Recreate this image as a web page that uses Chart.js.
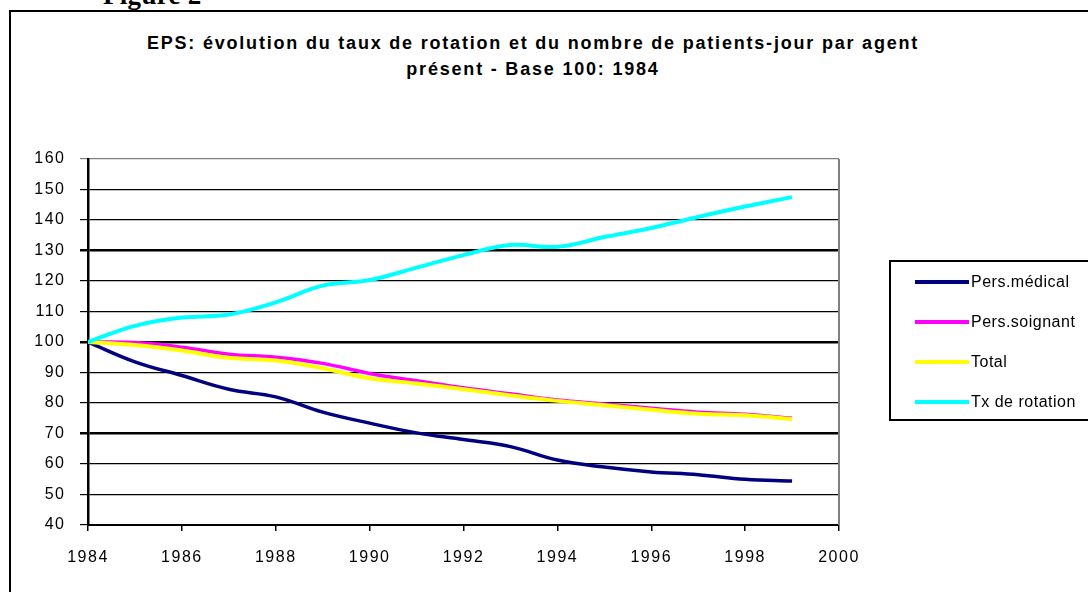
<!DOCTYPE html>
<html>
<head>
<meta charset="utf-8">
<script src="https://cdn.jsdelivr.net/npm/chart.js@4"></script>
<style>
  body { margin: 0; background: #fff; font-family: "Liberation Sans", Arial, sans-serif; }
  #wrap { position: relative; width: 1088px; height: 592px; overflow: hidden; }
  #frame { position: absolute; left: 9px; top: 10px; width: 1200px; height: 700px; border: 2px solid #000; box-sizing: border-box; }
  #fig { position: absolute; left: 103px; top: -18px; font: bold 27px/27px "Liberation Serif", serif; letter-spacing: 0.3px; }
  #title { position: absolute; left: 0; width: 1066px; top: 30px; text-align: center; font-weight: bold; font-size: 18px; line-height: 26px; letter-spacing: 1.8px; }
  #chart { position: absolute; left: 0; top: 0; }
  #legend { position: absolute; left: 889px; top: 260px; width: 220px; height: 161px; border: 2px solid #000; box-sizing: border-box; }
  .item { position: absolute; left: 24px; height: 20px; display: flex; align-items: center; font-size: 16px; letter-spacing: 0.5px; }
  .swatch { width: 54px; height: 4px; margin-right: 2px; }
</style>
</head>
<body>
<div id="wrap">
  <div id="frame"></div>
  <div id="fig">Figure 2</div>
  <div id="title">EPS: évolution du taux de rotation et du nombre de patients-jour par agent<br>présent - Base 100: 1984</div>
  <canvas id="chart" width="1088" height="592"></canvas>
  <div id="legend"></div>
</div>
<script>
const years = [1984, 1985, 1986, 1987, 1988, 1989, 1990, 1991, 1992, 1993, 1994, 1995, 1996, 1997, 1998, 1999];
const persMedical = [100, 93.5, 89, 84.5, 82, 77, 73.4, 70.2, 68, 65.7, 61.3, 59, 57.4, 56.5, 55, 54.4];
const persSoignant = [100, 99.8, 98.3, 96, 95, 93, 89.7, 87.3, 85, 83, 81, 79.7, 78.3, 77, 76.3, 75];
const total = [100, 99, 97.2, 94.8, 93.9, 91.4, 88.1, 86.4, 84.5, 82.5, 80.7, 79.3, 77.8, 76.5, 76, 74.7];
const txRotation = [100, 105.3, 108, 109, 113, 118.5, 120.3, 124.4, 128.5, 131.8, 131.2, 134.4, 137.4, 141, 144.4, 147.5];
const yTicks = [40, 50, 60, 70, 80, 90, 100, 110, 120, 130, 140, 150, 160];
const thickLines = [70, 100, 130];

const toPoints = (vals) => vals.map((v, i) => ({ x: years[i], y: v }));

const series = [
  { label: "Pers.médical", data: persMedical, color: "#000080", width: 3.5, order: 3 },
  { label: "Pers.soignant", data: persSoignant, color: "#ff00ff", width: 3.5, order: 2 },
  { label: "Total", data: total, color: "#ffff00", width: 4, order: 1 },
  { label: "Tx de rotation", data: txRotation, color: "#00ffff", width: 4, order: 0 },
];

// wider spacing for the axis labels, gray right edge of the plot area
const plotEdge = {
  id: "plotEdge",
  beforeDraw(chart) {
    chart.ctx.letterSpacing = "1.5px";
  },
  afterDraw(chart) {
    const { ctx, chartArea } = chart;
    ctx.save();
    ctx.strokeStyle = "#808080";
    ctx.lineWidth = 2;
    ctx.beginPath();
    ctx.moveTo(chartArea.right, chartArea.top);
    ctx.lineTo(chartArea.right, chartArea.bottom);
    ctx.stroke();
    ctx.restore();
  },
};

const chart = new Chart(document.getElementById("chart"), {
  type: "line",
  data: {
    datasets: series.map((s) => ({
      label: s.label,
      data: toPoints(s.data),
      borderColor: s.color,
      backgroundColor: s.color,
      borderWidth: s.width,
      pointRadius: 0,
      tension: 0.4,
      fill: false,
      order: s.order,
    })),
  },
  options: {
    responsive: false,
    animation: false,
    layout: { padding: { left: 0, right: 249, top: 159, bottom: 0 } },
    plugins: { legend: { display: false }, tooltip: { enabled: false } },
    scales: {
      x: {
        type: "linear",
        min: 1984,
        max: 2000,
        afterFit: (scale) => { scale.height = 67; },
        ticks: { stepSize: 2, color: "#000", font: { family: "Liberation Sans", size: 16 }, padding: 17, maxRotation: 0, callback: (v) => String(v) },
        grid: { drawOnChartArea: false, drawTicks: true, tickLength: 6, color: "#000", lineWidth: 1.5 },
        border: { display: true, color: "#000", width: 2 },
      },
      y: {
        min: 40,
        max: 160,
        afterFit: (scale) => { scale.width = 88; },
        afterBuildTicks: (scale) => { scale.ticks = yTicks.map((v) => ({ value: v })); },
        ticks: { color: "#000", font: { family: "Liberation Sans", size: 16 }, padding: 14.5 },
        grid: {
          tickLength: 8,
          color: (c) => (c.tick && c.tick.value === 160 ? "#808080" : "#000"),
          lineWidth: (c) => (c.tick && thickLines.includes(c.tick.value) ? 2.5 : 1.2),
        },
        border: { display: true, color: "#000", width: 2.5 },
      },
    },
  },
  plugins: [plotEdge],
});

// boxed legend on the right, built from the datasets
const legend = document.getElementById("legend");
series.forEach((s, i) => {
  const item = document.createElement("div");
  item.className = "item";
  item.style.top = (10 + i * 40) + "px";
  item.innerHTML = `<span class="swatch" style="background:${s.color}"></span>${s.label}`;
  legend.appendChild(item);
});
</script>
</body>
</html>
